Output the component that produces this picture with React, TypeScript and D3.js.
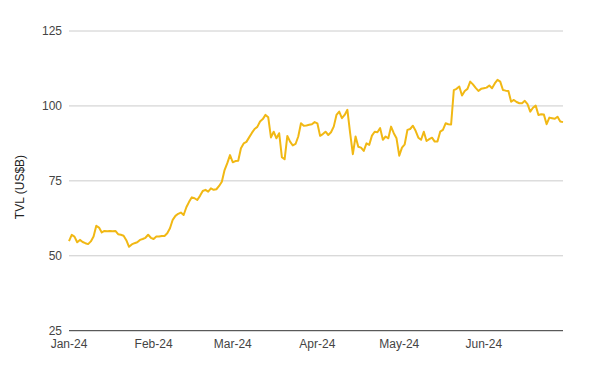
import React from "react";
import * as d3 from "d3";

// Daily TVL (US$B) starting at startDate
const startDate = "2024-01-01";
const tvl: number[] = [
  54.9, 57.0, 56.4, 54.5, 55.3, 54.6, 54.2, 53.9, 54.8, 56.4,
  60.0, 59.4, 57.8, 58.3, 58.2, 58.3, 58.2, 58.3, 57.2, 57.0,
  56.7, 55.2, 53.0, 53.8, 54.2, 54.5, 55.3, 55.6, 56.0, 57.0,
  56.0, 55.6, 56.4, 56.4, 56.6, 56.6, 57.5, 59.2, 62.0, 63.3,
  64.0, 64.4, 63.6, 66.2, 68.0, 69.5, 69.2, 68.6, 70.0, 71.6,
  72.0, 71.4, 72.5, 72.0, 72.2, 73.3, 74.7, 78.6, 80.9, 83.6,
  81.2, 81.6, 81.7, 85.9, 87.5, 88.0, 89.5, 91.0, 92.3, 93.0,
  94.8, 95.6, 97.0, 96.2, 89.5, 91.4, 89.2, 90.9, 82.9, 82.2,
  90.0, 88.1, 86.8, 87.3, 89.8, 94.2, 93.4, 93.5, 93.7, 93.9,
  94.6, 94.2, 90.0, 90.6, 91.4, 90.3, 91.2, 93.1, 97.0, 98.1,
  95.9, 97.0, 98.7, 91.0, 83.9, 89.8, 86.4, 86.1, 85.0, 87.5,
  87.0, 90.1, 91.4, 91.2, 92.6, 88.7, 89.8, 89.2, 93.1, 90.9,
  89.2, 83.4, 86.1, 87.2, 92.0, 92.3, 93.4, 91.7, 89.4, 88.7,
  91.4, 88.3, 88.9, 89.4, 88.1, 88.1, 91.4, 92.0, 94.2, 93.9,
  93.8, 105.3, 105.7, 106.5, 103.5, 105.0, 105.7, 108.1, 107.2, 106.0,
  105.0, 105.7, 105.9, 106.1, 106.8, 105.9, 107.5, 108.7, 108.1, 105.3,
  105.1, 105.0, 101.4, 102.0, 101.3, 100.9, 100.9, 101.7, 100.6, 98.1,
  99.4, 100.1, 97.0, 97.2, 97.1, 93.9, 96.1, 95.9, 95.7, 96.4,
  94.8, 94.6,
];
const yTicks: number[] = [25, 50, 75, 100, 125];
const xTickLabels: string[] = ["Jan-24", "Feb-24", "Mar-24", "Apr-24", "May-24", "Jun-24"];
const yTitle = "TVL (US$B)";

const W = 600;
const H = 368;
const FONT = "'Liberation Sans', Arial, sans-serif";

export default function App() {
  const start = d3.isoParse(startDate + "T00:00:00")!;
  const dates = tvl.map((_, i) => d3.timeDay.offset(start, i));
  const x = d3
    .scaleTime()
    .domain([dates[0], dates[dates.length - 1]])
    .range([69, 563]);
  const y = d3.scaleLinear().domain([25, 125]).range([330.7, 31]);
  const line = d3
    .line<number>()
    .x((_, i) => x(dates[i]))
    .y((d) => y(d))
    .curve(d3.curveLinear);
  const monthTicks = d3.timeMonth.range(start, d3.timeDay.offset(dates[dates.length - 1], 1));

  return (
    <svg
      width={W}
      height={H}
      style={{ position: "absolute", left: 0, top: 0, background: "#fff" }}
      fontFamily={FONT}
    >
      <rect x={0} y={0} width={W} height={H} fill="#fff" />
      {yTicks.map((t) => (
        <g key={t}>
          <line
            x1={69}
            x2={563}
            y1={y(t)}
            y2={y(t)}
            stroke={t === 25 ? "#333" : "#ccc"}
            strokeWidth={1}
          />
          <text
            x={62}
            y={y(t)}
            dy="0.33em"
            textAnchor="end"
            fontSize={12}
            fill="#444"
          >
            {t}
          </text>
        </g>
      ))}
      {monthTicks.map((m, i) => (
        <text
          key={i}
          x={x(m)}
          y={348}
          textAnchor="middle"
          fontSize={12}
          fill="#444"
        >
          {xTickLabels[i]}
        </text>
      ))}
      <text
        transform={`translate(24,187) rotate(-90)`}
        textAnchor="middle"
        fontSize={12}
        fill="#222"
      >
        {yTitle}
      </text>
      <path
        d={line(tvl) || ""}
        fill="none"
        stroke="#f1b814"
        strokeWidth={2}
        strokeLinejoin="round"
      />
    </svg>
  );
}
